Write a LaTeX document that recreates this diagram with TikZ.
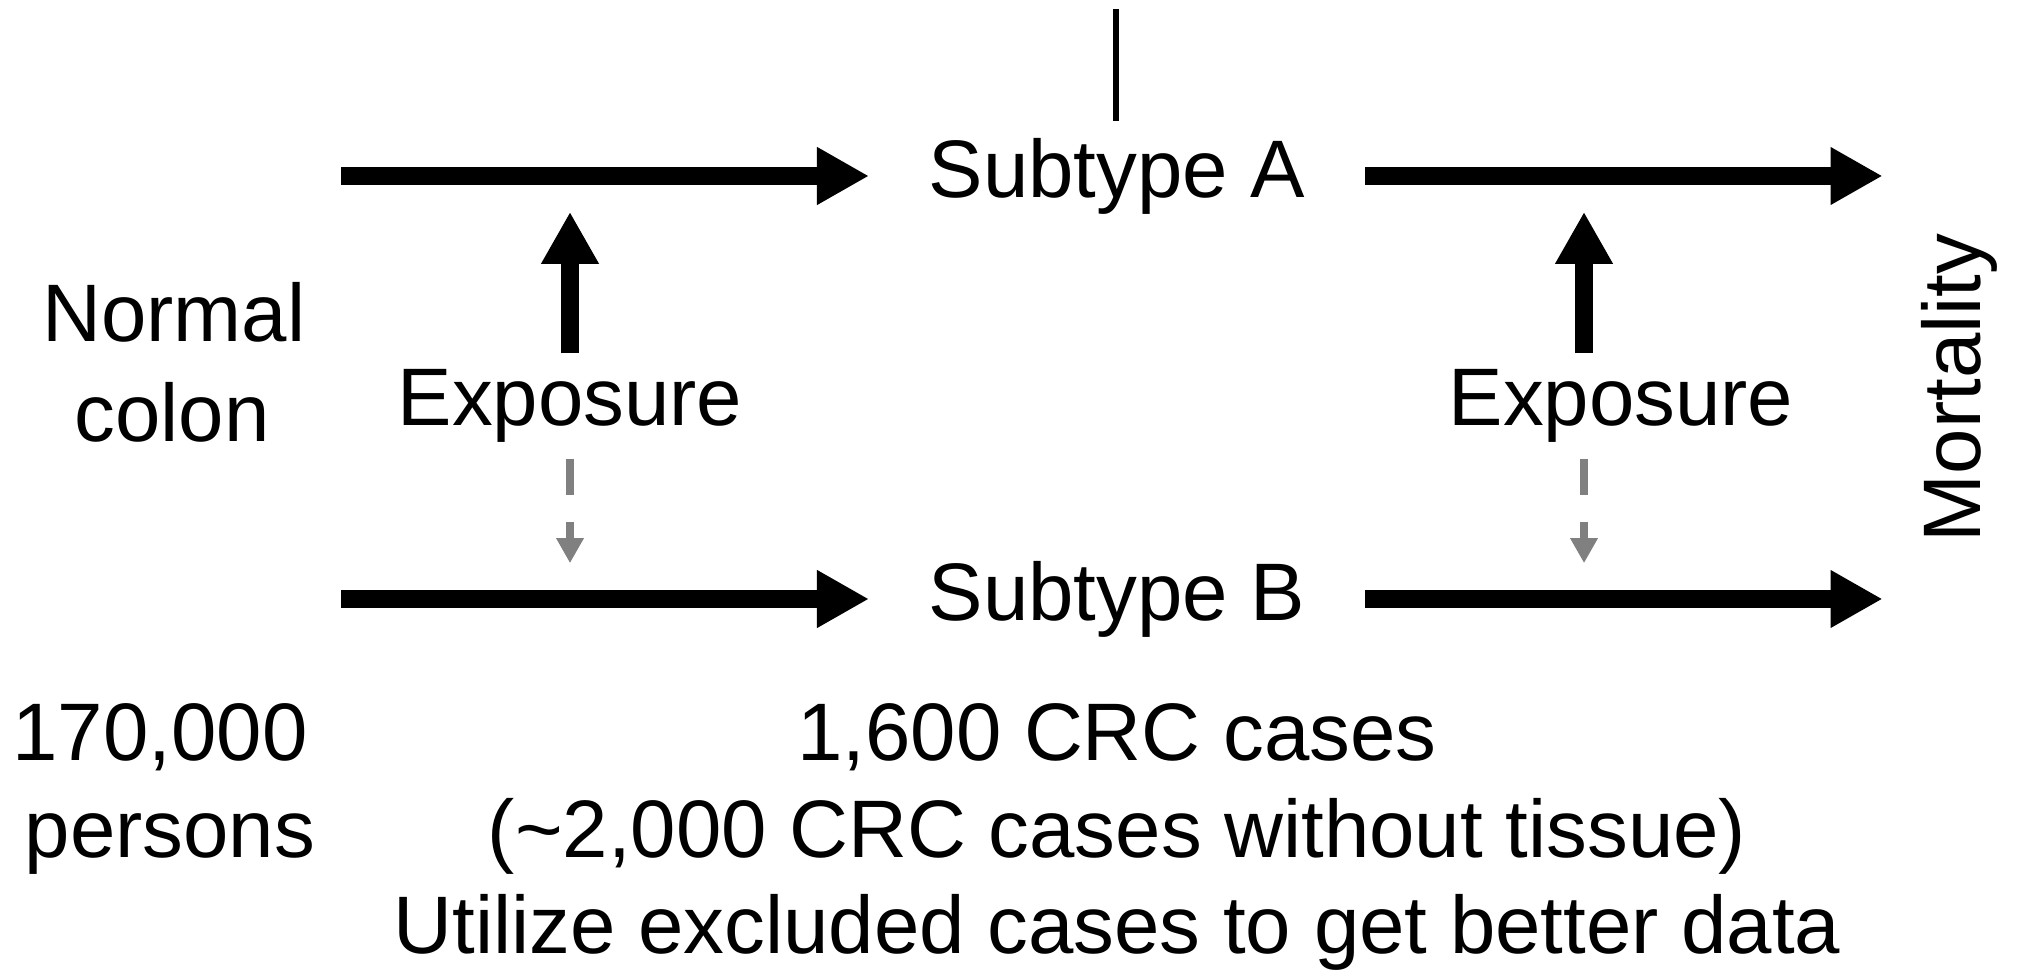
\documentclass[tikz,border=0pt]{standalone}
\usepackage{fontspec}
\setmainfont{Liberation Sans}
\usetikzlibrary{arrows.meta}

\definecolor{hintgray}{HTML}{808080}

\tikzstyle{txt}=[font=\fontsize{23.2pt}{28pt}\selectfont,inner sep=0pt]
\tikzstyle{subtype}=[txt,text height=17.4pt,text depth=4.9pt,inner xsep=16.8pt,inner ysep=4.3pt]
\tikzstyle{expo}=[txt,anchor=base,inner sep=4.5pt]
\tikzstyle{flow}=[draw,line width=5.1pt,-{Triangle[length=14.8pt,width=15.4pt]}]
\tikzstyle{hint}=[draw,hintgray,line width=2.3pt,dash pattern=on 10pt off 7.7pt,-{Triangle[length=7.1pt,width=7.4pt]}]
\tikzstyle{stem}=[draw,line width=1.7pt]

\begin{document}
\begin{tikzpicture}[x=0.01cm,y=-0.01cm]

\useasboundingbox (0,0) rectangle (2019,971);

% the two subtypes
\node[subtype] (subA) at (1117,176) {Subtype A};
\node[subtype] (subB) at (1117,599) {Subtype B};

\node[txt,anchor=base] (normal) at (174,342) {Normal};
\node[txt,anchor=base] (colon) at (172,442) {colon};

\node[txt,anchor=base,rotate=90,inner sep=10.7pt] (mort) at (1980,388) {Mortality};

\node[expo] (expL) at (570,426) {Exposure};
\node[expo] (expR) at (1621,426) {Exposure};

% counts
\node[txt,anchor=base] (count) at (160,761) {170,000};
\node[txt,anchor=base] (persons) at (170,858) {persons};
\node[txt,anchor=base] (cases) at (1117,761) {1,600 CRC cases};
\node[txt,anchor=base] (notissue) at (1117,858) {(\textasciitilde2,000 CRC cases without tissue)};
\node[txt,anchor=base] (utilize) at (1117,953) {Utilize excluded cases to get better data};

\coordinate (stemtop) at (1116,9);
\coordinate (inA) at (341,176);
\coordinate (inB) at (341,599);
\coordinate (axisR) at (1584,0);

\path[stem] (stemtop) -- (stemtop |- subA.north);

\path[flow] (inA) -- (subA.west);
\path[flow] (inB) -- (subB.west);
\path[flow] (subA.east) -- (subA.east -| mort.north);
\path[flow] (subB.east) -- (subB.east -| mort.north);

\path[flow,shorten >=10.2pt] (expL.north) -- (expL.north |- subA.west);
\path[flow,shorten >=10.2pt] (axisR |- expR.north) -- (axisR |- subA.west);

\path[hint,shorten >=10.2pt] (expL.south) -- (expL.south |- subB.west);
\path[hint,shorten >=10.2pt] (axisR |- expR.south) -- (axisR |- subB.west);

\end{tikzpicture}
\end{document}
